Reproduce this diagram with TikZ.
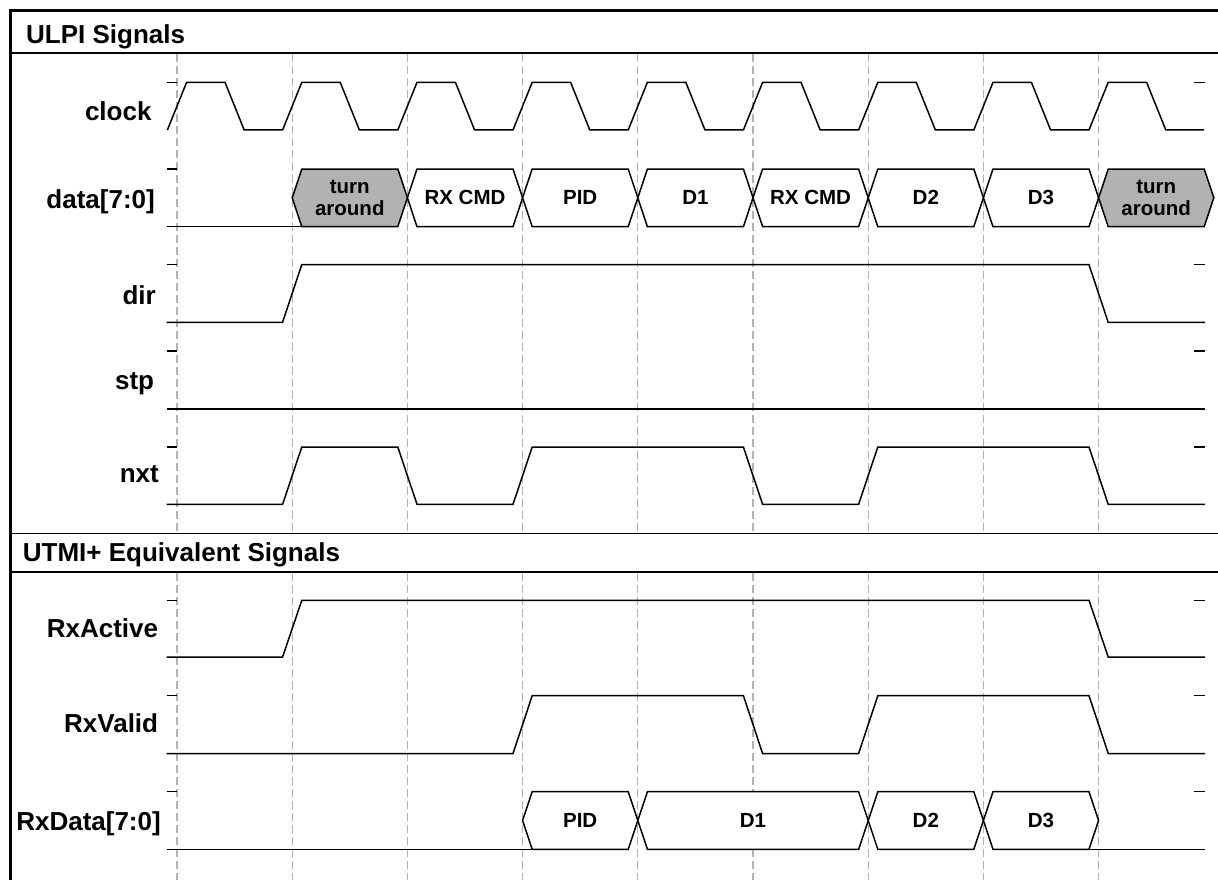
\documentclass[tikz,border=0pt]{standalone}
\usepackage{fontspec}
\setmainfont{Liberation Sans}
\begin{document}
\begin{tikzpicture}[x=1pt,y=-1pt,
  wave/.style={line width=1.5pt,line join=miter},
  grid/.style={line width=1.3pt,draw=black!30,dash pattern=on 8pt off 4pt},
  frame/.style={line width=3pt},
  sep/.style={line width=1.6pt},
  sig/.style={font=\fontsize{26}{30}\selectfont\bfseries,inner sep=0pt,anchor=base east},
  hdr/.style={font=\fontsize{26}{30}\selectfont\bfseries,inner sep=0pt,anchor=base west},
  bus/.style={font=\fontsize{20.5}{21.7}\selectfont\bfseries,inner sep=0pt,anchor=base},
  bus2/.style={font=\fontsize{20.5}{21.7}\selectfont\bfseries,inner sep=0pt,align=center,anchor=center},
  ta/.style={fill=black!30},
  plain/.style={fill=white},
  tick/.style={line width=1.5pt}]
\useasboundingbox (0,0) rectangle (1218,880);
% grid lines
\foreach \k in {0,...,8}{
  \draw[grid] ({177+115.2*\k},54.5) -- ({177+115.2*\k},532);
  \draw[grid] ({177+115.2*\k},573) -- ({177+115.2*\k},880);
}
% frame and separators
\draw[frame] (10,10.5) -- (1218,10.5);
\draw[frame] (10,9) -- (10,880);
\draw[sep] (10,53.3) -- (1218,53.3);
\draw[sep] (10,533.3) -- (1218,533.3);
\draw[sep] (10,571.7) -- (1218,571.7);
% headers
\node[hdr] (h1) at (26,43.5) {ULPI Signals};
\node[hdr] (h2) at (22.7,561.7) {UTMI+ Equivalent Signals};
% signal labels
\node[sig] (lclk) at (151.7,120.7) {clock};
\node[sig] (ldata) at (155,208.5) {data[7:0]};
\node[sig] (ldir) at (156,304.3) {dir};
\node[sig] (lstp) at (154.3,389.3) {stp};
\node[sig] (lnxt) at (159,482.3) {nxt};
\node[sig] (lact) at (158.3,637.3) {RxActive};
\node[sig] (lval) at (158.3,732.7) {RxValid};
\node[sig] (lrxd) at (161,830.7) {RxData[7:0]};
% ticks
\foreach \y in {82.3,169,264.7,351,447,600.3,695.7,791.7}{
  \draw[tick] (166.7,\y) -- (177,\y);
}
\foreach \y in {82.3,264.7,351,447,600.3,695.7,791.7}{
  \draw[tick] (1194,\y) -- (1205,\y);
}
% clock
\draw[wave] (167.4,130) \foreach \k in {0,...,8}{
  -- ({177+115.2*\k+9.6},82.3) -- ({177+115.2*\k+48},82.3)
  -- ({177+115.2*\k+67.2},130) -- ({177+115.2*\k+105.6},130) };
% data bus
\draw[wave] (166.7,226.7) -- (301.8,226.7);
\def\hex#1#2#3#4#5#6{\draw[wave,#6] (#1,#4) -- ({#1+9.6},#3) -- ({#2-9.6},#3) -- (#2,#4) -- ({#2-9.6},#5) -- ({#1+9.6},#5) -- cycle;}
\hex{292.2}{407.4}{169}{197.8}{226.7}{ta}
\hex{407.4}{522.6}{169}{197.8}{226.7}{plain}
\hex{522.6}{637.8}{169}{197.8}{226.7}{plain}
\hex{637.8}{753}{169}{197.8}{226.7}{plain}
\hex{753}{868.2}{169}{197.8}{226.7}{plain}
\hex{868.2}{983.4}{169}{197.8}{226.7}{plain}
\hex{983.4}{1098.6}{169}{197.8}{226.7}{plain}
\hex{1098.6}{1213.8}{169}{197.8}{226.7}{ta}
\node[bus2] (d0) at (349.8,197.6) {turn\\around};
\node[bus] (d1) at (465,204) {RX CMD};
\node[bus] (d2) at (580.2,204) {PID};
\node[bus] (d3) at (695.4,204) {D1};
\node[bus] (d4) at (810.6,204) {RX CMD};
\node[bus] (d5) at (925.8,204) {D2};
\node[bus] (d6) at (1041,204) {D3};
\node[bus2] (d7) at (1156.2,197.6) {turn\\around};
% dir
\draw[wave] (166.7,322.3) -- (282.6,322.3) -- (301.8,264.7) -- (1089,264.7) -- (1108.2,322.3) -- (1205,322.3);
% stp
\draw[wave] (166.7,409) -- (1205,409);
% nxt
\draw[wave] (166.7,504.3) -- (282.6,504.3) -- (301.8,447) -- (397.8,447) -- (417,504.3) -- (513,504.3) -- (532.2,447) -- (743.4,447) -- (762.6,504.3) -- (858.6,504.3) -- (877.8,447) -- (1089,447) -- (1108.2,504.3) -- (1205,504.3);
% RxActive
\draw[wave] (166.7,657) -- (282.6,657) -- (301.8,600.3) -- (1089,600.3) -- (1108.2,657) -- (1205,657);
% RxValid
\draw[wave] (166.7,753.5) -- (513,753.5) -- (532.2,695.7) -- (743.4,695.7) -- (762.6,753.5) -- (858.6,753.5) -- (877.8,695.7) -- (1089,695.7) -- (1108.2,753.5) -- (1205,753.5);
% RxData
\draw[wave] (166.7,849.3) -- (532.2,849.3);
\hex{522.6}{637.8}{791.7}{820.5}{849.3}{plain}
\hex{637.8}{868.2}{791.7}{820.5}{849.3}{plain}
\hex{868.2}{983.4}{791.7}{820.5}{849.3}{plain}
\hex{983.4}{1098.6}{791.7}{820.5}{849.3}{plain}
\draw[wave] (1089,849.3) -- (1205,849.3);
\node[bus] (r1) at (580.2,827.5) {PID};
\node[bus] (r2) at (753,827.5) {D1};
\node[bus] (r3) at (925.8,827.5) {D2};
\node[bus] (r4) at (1041,827.5) {D3};
\end{tikzpicture}
\end{document}
